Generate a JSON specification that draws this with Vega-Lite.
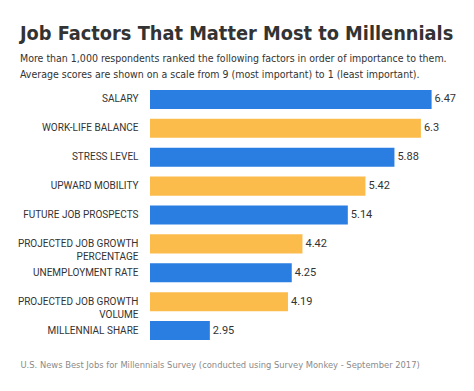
{
  "$schema": "https://vega.github.io/schema/vega-lite/v6.json",
  "autosize": "none",
  "width": 315,
  "height": 260,
  "padding": {"left": 150, "top": 85, "right": 9, "bottom": 46},
  "background": "white",
  "title": {
    "text": "Job Factors That Matter Most to Millennials",
    "subtitle": ["More than 1,000 respondents ranked the following factors in order of importance to them.", "Average scores are shown on a scale from 9 (most important) to 1 (least important)."],
    "anchor": "start",
    "frame": "group",
    "dx": -130,
    "offset": 5,
    "font": "DejaVu Sans Condensed",
    "fontSize": 19.8,
    "fontWeight": "bold",
    "color": "#333333",
    "subtitleFont": "DejaVu Sans Condensed",
    "subtitleFontSize": 10.5,
    "subtitleColor": "#333333",
    "subtitleLineHeight": 16,
    "subtitlePadding": 10
  },
  "data": {
    "values": [
      {"factor": "SALARY", "score": 6.47},
      {"factor": "WORK-LIFE BALANCE", "score": 6.3},
      {"factor": "STRESS LEVEL", "score": 5.88},
      {"factor": "UPWARD MOBILITY", "score": 5.42},
      {"factor": "FUTURE JOB PROSPECTS", "score": 5.14},
      {"factor": "PROJECTED JOB GROWTH|PERCENTAGE", "score": 4.42},
      {"factor": "UNEMPLOYMENT RATE", "score": 4.25},
      {"factor": "PROJECTED JOB GROWTH|VOLUME", "score": 4.19},
      {"factor": "MILLENNIAL SHARE", "score": 2.95}
    ]
  },
  "transform": [
    {"window": [{"op": "row_number", "as": "rank"}]}
  ],
  "encoding": {
    "y": {
      "field": "factor",
      "type": "nominal",
      "sort": null,
      "scale": {"paddingInner": 0.34, "paddingOuter": 0.17},
      "axis": {
        "title": null,
        "ticks": false,
        "domain": false,
        "labelPadding": 12,
        "labelFont": "Roboto",
        "labelFontSize": 10,
        "labelColor": "#333333",
        "labelLimit": 200,
        "labelLineHeight": 13,
        "labelExpr": "split(datum.label, '|')"
      }
    },
    "x": {
      "field": "score",
      "type": "quantitative",
      "scale": {"domain": [2, 7], "zero": false, "nice": false},
      "axis": {
        "labels": false,
        "ticks": false,
        "domain": false,
        "grid": false,
        "title": "U.S. News Best Jobs for Millennials Survey (conducted using Survey Monkey - September 2017)",
        "titleAnchor": "start",
        "titleAlign": "left",
        "titleX": -130,
        "titleY": 22,
        "titleBaseline": "alphabetic",
        "titleFont": "DejaVu Sans Condensed",
        "titleFontSize": 9.3,
        "titleFontWeight": "normal",
        "titleColor": "#8a8a8a"
      }
    }
  },
  "layer": [
    {
      "mark": {"type": "bar"},
      "encoding": {
        "x2": {"datum": 2},
        "color": {
          "condition": {"test": "datum.rank % 2 == 1", "value": "#2a7de1"},
          "value": "#fbbc4c"
        }
      }
    },
    {
      "mark": {"type": "text", "align": "left", "dx": 3, "font": "Roboto", "fontSize": 11, "color": "#333333"},
      "encoding": {"text": {"field": "score", "type": "quantitative"}}
    }
  ],
  "config": {"view": {"stroke": null}}
}
